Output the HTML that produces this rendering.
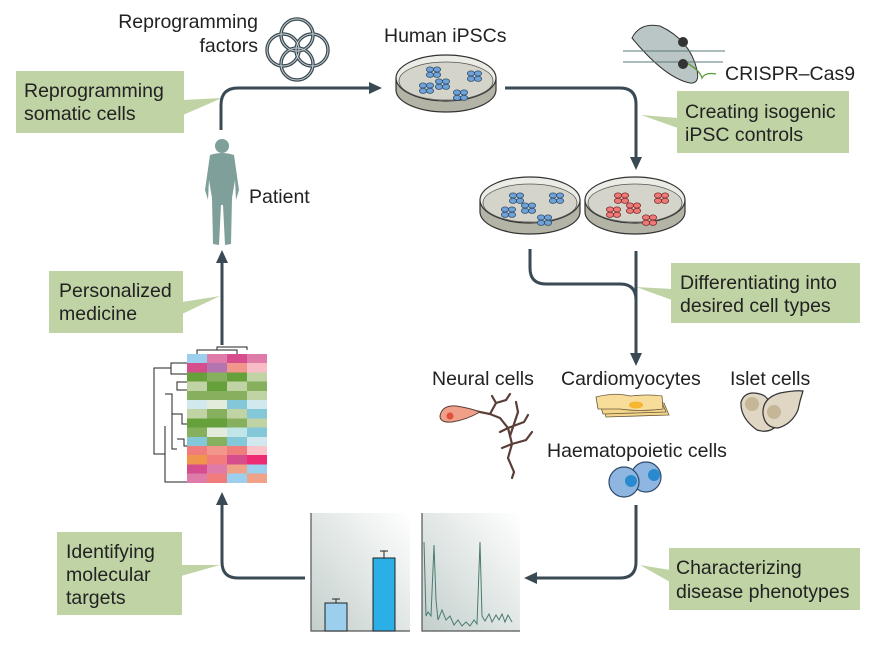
<!DOCTYPE html>
<html><head><meta charset="utf-8"><style>
body{margin:0;background:#fff;}
svg{display:block;font-family:"Liberation Sans",sans-serif;}
</style></head><body>
<svg width="870" height="646" viewBox="0 0 870 646" xmlns="http://www.w3.org/2000/svg">
<defs>
<g id="cb"><ellipse cx="-3" cy="-2.5" rx="3.6" ry="2.6" fill="#6fa3d8" stroke="#2d4a6b" stroke-width="0.8"/><ellipse cx="4" cy="-2.5" rx="3.6" ry="2.6" fill="#6fa3d8" stroke="#2d4a6b" stroke-width="0.8"/><ellipse cx="-3" cy="2.8" rx="3.6" ry="2.6" fill="#6fa3d8" stroke="#2d4a6b" stroke-width="0.8"/><ellipse cx="4" cy="2.8" rx="3.6" ry="2.6" fill="#6fa3d8" stroke="#2d4a6b" stroke-width="0.8"/></g>
<g id="cr"><ellipse cx="-3" cy="-2.5" rx="3.6" ry="2.6" fill="#ee7a78" stroke="#7a2a2a" stroke-width="0.8"/><ellipse cx="4" cy="-2.5" rx="3.6" ry="2.6" fill="#ee7a78" stroke="#7a2a2a" stroke-width="0.8"/><ellipse cx="-3" cy="2.8" rx="3.6" ry="2.6" fill="#ee7a78" stroke="#7a2a2a" stroke-width="0.8"/><ellipse cx="4" cy="2.8" rx="3.6" ry="2.6" fill="#ee7a78" stroke="#7a2a2a" stroke-width="0.8"/></g>
<g id="dish">
<path d="M-50,0 L-50,12 A50,22 0 0 0 50,12 L50,0 Z" fill="#b4b4a6" stroke="#333" stroke-width="1.2"/>
<ellipse cx="0" cy="0" rx="50" ry="23" fill="#ececE6" stroke="#333" stroke-width="1.2"/>
<ellipse cx="0" cy="3" rx="47" ry="19" fill="#d4d4ca" stroke="#555" stroke-width="0.8"/>
</g>
<linearGradient id="gr" x1="0" y1="1" x2="1" y2="0"><stop offset="0" stop-color="#c3cfcc"/><stop offset="1" stop-color="#ffffff"/></linearGradient>
</defs>

<g fill="#bfd3a4">
<rect x="16" y="71" width="168" height="62"/><polygon points="183,100 222,98 183,115"/>
<rect x="677" y="91" width="172" height="62"/><polygon points="678,118 641,115 678,128"/>
<rect x="49" y="271" width="134" height="62"/><polygon points="182,302 220,296 182,314"/>
<rect x="671" y="263" width="189" height="60"/><polygon points="672,289 636,287 672,300"/>
<rect x="57" y="532" width="125" height="83"/><polygon points="181,565 220,565 181,576"/>
<rect x="669" y="548" width="191" height="62"/><polygon points="670,570 640,565 670,582"/>
</g>
<g font-size="19.5" fill="#222">
<text x="24" y="97">Reprogramming</text><text x="24" y="120">somatic cells</text>
<text x="685" y="118">Creating isogenic</text><text x="685" y="141">iPSC controls</text>
<text x="59" y="297">Personalized</text><text x="59" y="320">medicine</text>
<text x="680" y="289">Differentiating into</text><text x="680" y="312">desired cell types</text>
<text x="66" y="558">Identifying</text><text x="66" y="581">molecular</text><text x="66" y="604">targets</text>
<text x="676" y="574">Characterizing</text><text x="676" y="598">disease phenotypes</text>
<text x="258" y="28" text-anchor="end">Reprogramming</text><text x="258" y="52" text-anchor="end">factors</text>
<text x="384" y="42">Human iPSCs</text>
<text x="725" y="80">CRISPR–Cas9</text>
<text x="249" y="203">Patient</text>
<text x="432" y="385">Neural cells</text>
<text x="561" y="385">Cardiomyocytes</text>
<text x="730" y="385">Islet cells</text>
<text x="547" y="457">Haematopoietic cells</text>
</g>

<g fill="none" stroke="#3a4a54" stroke-width="3">
<path d="M221,130 L221,105 Q221,88 238,88 L372,88"/>
<path d="M505,88 L620,88 Q636,88 636,104 L636,160"/>
<path d="M530,249 L530,268 Q530,284 546,284 L620,284 Q636,284 636,300"/>
<path d="M636,251 L636,356"/>
<path d="M636,505 L636,562 Q636,578 620,578 L535,578"/>
<path d="M305,578 L238,578 Q222,578 222,562 L222,502"/>
<path d="M222,345 L222,260"/>
</g>
<g fill="#3a4a54">
<polygon points="382,88 369,82 369,94"/>
<polygon points="636,170 630,157 642,157"/>
<polygon points="636,366 630,353 642,353"/>
<polygon points="524,578 537,572 537,584"/>
<polygon points="222,492 216,505 228,505"/>
<polygon points="222,250 216,263 228,263"/>
</g>

<g fill="none" stroke="#3a4a54" stroke-width="3.5">
<circle cx="297" cy="35" r="16"/><circle cx="283" cy="50" r="16"/><circle cx="312" cy="50" r="16"/><circle cx="297" cy="64" r="16"/>
</g>
<g fill="none" stroke="#c8d0d0" stroke-width="1">
<circle cx="297" cy="35" r="16"/><circle cx="283" cy="50" r="16"/><circle cx="312" cy="50" r="16"/><circle cx="297" cy="64" r="16"/>
</g>

<g transform="translate(446,78)"><use href="#dish"/>
<use href="#cb" x="-13" y="-6"/><use href="#cb" x="28" y="-2"/><use href="#cb" x="-20" y="10"/><use href="#cb" x="-4" y="6"/><use href="#cb" x="14" y="17"/></g>
<g transform="translate(530,200)"><use href="#dish"/>
<use href="#cb" x="-14" y="-2"/><use href="#cb" x="26" y="-2"/><use href="#cb" x="-22" y="12"/><use href="#cb" x="-2" y="8"/><use href="#cb" x="14" y="20"/></g>
<g transform="translate(635,200)"><use href="#dish"/>
<use href="#cr" x="-14" y="-2"/><use href="#cr" x="26" y="-2"/><use href="#cr" x="-22" y="12"/><use href="#cr" x="-2" y="8"/><use href="#cr" x="14" y="20"/></g>

<path d="M632,38 Q640,22 660,26 Q690,40 697,70 Q700,84 690,83 Q665,78 632,38 Z" fill="#b9c6c5" stroke="#333" stroke-width="1"/>
<g stroke="#5a7a78" stroke-width="1"><line x1="623" y1="51" x2="725" y2="51"/><line x1="623" y1="62" x2="723" y2="62"/></g>
<path d="M685,62 Q700,70 702,78 Q705,72 716,74" fill="none" stroke="#5a9a3a" stroke-width="1.3"/>
<circle cx="683" cy="42" r="5" fill="#333"/><circle cx="683" cy="64" r="5" fill="#333"/>

<g fill="#7f9f9a">
<circle cx="222" cy="146" r="7"/>
<path d="M210,155 Q222,151 234,155 L239,190 L236,200 L235,180 L232,198 L231,244 L225,245 L223,205 L221,205 L219,245 L213,244 L212,198 L209,180 L208,200 L205,190 Z"/>
</g>

<g transform="translate(187,354)">
<g shape-rendering="crispEdges">
<rect x="0" y="0" width="20" height="9.3" fill="#9ccfee"/><rect x="20" y="0" width="20" height="9.3" fill="#df7ba8"/><rect x="40" y="0" width="20" height="9.3" fill="#d64d8d"/><rect x="60" y="0" width="20" height="9.3" fill="#df7ba8"/>
<rect x="0" y="9.2" width="20" height="9.3" fill="#d64d8d"/><rect x="20" y="9.2" width="20" height="9.3" fill="#b374b0"/><rect x="40" y="9.2" width="20" height="9.3" fill="#f2958b"/><rect x="60" y="9.2" width="20" height="9.3" fill="#f7bcc6"/>
<rect x="0" y="18.4" width="20" height="9.3" fill="#66a03a"/><rect x="20" y="18.4" width="20" height="9.3" fill="#86b05e"/><rect x="40" y="18.4" width="20" height="9.3" fill="#66a03a"/><rect x="60" y="18.4" width="20" height="9.3" fill="#c0d3a4"/>
<rect x="0" y="27.6" width="20" height="9.3" fill="#c0d3a4"/><rect x="20" y="27.6" width="20" height="9.3" fill="#66a03a"/><rect x="40" y="27.6" width="20" height="9.3" fill="#c0d3a4"/><rect x="60" y="27.6" width="20" height="9.3" fill="#86b05e"/>
<rect x="0" y="36.8" width="60" height="9.3" fill="#86b05e"/><rect x="60" y="36.8" width="20" height="9.3" fill="#c0d3a4"/>
<rect x="0" y="46" width="20" height="9.3" fill="#d0e8ee"/><rect x="20" y="46" width="20" height="9.3" fill="#e3ecda"/><rect x="40" y="46" width="20" height="9.3" fill="#84c7d8"/><rect x="60" y="46" width="20" height="9.3" fill="#d0e8ee"/>
<rect x="0" y="55.2" width="20" height="9.3" fill="#c0d3a4"/><rect x="20" y="55.2" width="20" height="9.3" fill="#86b05e"/><rect x="40" y="55.2" width="20" height="9.3" fill="#c0d3a4"/><rect x="60" y="55.2" width="20" height="9.3" fill="#84c7d8"/>
<rect x="0" y="64.4" width="40" height="9.3" fill="#66a03a"/><rect x="40" y="64.4" width="20" height="9.3" fill="#86b05e"/><rect x="60" y="64.4" width="20" height="9.3" fill="#c0d3a4"/>
<rect x="0" y="73.6" width="20" height="9.3" fill="#86b05e"/><rect x="20" y="73.6" width="20" height="9.3" fill="#e3ecda"/><rect x="40" y="73.6" width="20" height="9.3" fill="#c0e6e8"/><rect x="60" y="73.6" width="20" height="9.3" fill="#84c7d8"/>
<rect x="0" y="82.8" width="20" height="9.3" fill="#84c7d8"/><rect x="20" y="82.8" width="20" height="9.3" fill="#86b05e"/><rect x="40" y="82.8" width="20" height="9.3" fill="#84c7d8"/><rect x="60" y="82.8" width="20" height="9.3" fill="#d0e8ee"/>
<rect x="0" y="92" width="20" height="9.3" fill="#f07c7c"/><rect x="20" y="92" width="20" height="9.3" fill="#f2958b"/><rect x="40" y="92" width="20" height="9.3" fill="#f07c7c"/><rect x="60" y="92" width="20" height="9.3" fill="#f9c5cb"/>
<rect x="0" y="101.2" width="20" height="9.3" fill="#f0964c"/><rect x="20" y="101.2" width="20" height="9.3" fill="#f07c7c"/><rect x="40" y="101.2" width="20" height="9.3" fill="#d64d8d"/><rect x="60" y="101.2" width="20" height="9.3" fill="#ee2a72"/>
<rect x="0" y="110.4" width="20" height="9.3" fill="#d64d8d"/><rect x="20" y="110.4" width="20" height="9.3" fill="#df7ba8"/><rect x="40" y="110.4" width="20" height="9.3" fill="#f0a288"/><rect x="60" y="110.4" width="20" height="9.3" fill="#9ccfee"/>
<rect x="0" y="119.6" width="20" height="9.4" fill="#df7ba8"/><rect x="20" y="119.6" width="20" height="9.4" fill="#f07c7c"/><rect x="40" y="119.6" width="20" height="9.4" fill="#9ccfee"/><rect x="60" y="119.6" width="20" height="9.4" fill="#f0a288"/>
</g>
<g fill="none" stroke="#222" stroke-width="1">
<path d="M0,9 H-16 V20 H0 M-16,14 H-33 V100 H-22 M-22,72 V128 H0 M-22,40 H-15 V95 H-10 M0,28 H-10 V36 H0 M-15,60 H-5 V70 H0 M-10,85 H-3 V92 H0"/>
<path d="M10,0 V-4 H50 V0 M30,-4 V-7 H60 V-4"/>
</g>
</g>

<rect x="311" y="513" width="99" height="118" fill="url(#gr)"/>
<rect x="422" y="513" width="98" height="118" fill="url(#gr)"/>
<g stroke="#555" stroke-width="1.2" fill="none"><path d="M311,513 V631 H410"/><path d="M422,513 V631 H520"/></g>
<rect x="325" y="603" width="22" height="28" fill="#9ccfee" stroke="#222"/>
<rect x="373" y="558" width="22" height="73" fill="#2aafe6" stroke="#222"/>
<g stroke="#222"><path d="M336,603 V599 M332,599 H340 M384,558 V551 M380,551 H388"/></g>
<path d="M424,542 L426,616 L428,612 L431,616 L434,545 L436,600 L438,620 L442,610 L446,620 L450,616 L454,625 L458,620 L462,626 L466,622 L470,626 L474,620 L477,624 L480,542 L482,616 L485,621 L489,614 L492,622 L496,615 L499,620 L502,614 L505,622 L508,615 L512,622" fill="none" stroke="#4a7a70" stroke-width="1"/>

<g stroke="#5a3e38" stroke-width="2.2" fill="none" stroke-linecap="round">
<path d="M470,410 L490,414 L500,418 L508,428 L512,444 L508,458 L514,472 L512,478"/>
<path d="M490,414 L496,403 L492,396 M496,403 L506,400 L510,394 M508,428 L524,422 L528,415 M512,444 L526,440 L532,432 M508,428 L500,432 M512,444 L502,448 M510,436 L518,412 L516,402"/>
</g>
<path d="M440,416 Q442,405 456,406 Q470,408 480,412 Q466,420 452,422 Q440,423 440,416Z" fill="#f0a088" stroke="#5a3e38" stroke-width="1"/>
<circle cx="450" cy="416" r="3.5" fill="#e0503a"/>

<g stroke="#6a5a3a" stroke-width="0.8">
<path d="M602,403 L664,403 L669,415 L606,417 Z" fill="#f3d58c"/>
<path d="M599,400 L661,400 L666,412 L603,414 Z" fill="#f3d58c"/>
<path d="M596,397 Q615,392 630,396 Q650,394 662,396 L663,409 Q640,412 620,409 L598,409 Z" fill="#f7dc9a"/>
</g>
<ellipse cx="636" cy="405" rx="7" ry="3.5" fill="#f5b630"/>

<path d="M760,394 Q745,390 741,402 Q740,418 757,430 Q770,434 777,425 L770,405 Q768,396 760,394Z" fill="#e0d6c4" stroke="#333" stroke-width="1.2"/>
<path d="M763,414 Q762,398 780,393 Q796,390 803,391 Q800,400 798,410 Q792,424 778,428 Q765,428 763,414Z" fill="#e0d6c4" stroke="#333" stroke-width="1.2"/>
<circle cx="752" cy="404" r="7" fill="#c5b698"/><circle cx="774" cy="412" r="7" fill="#c5b698"/>

<circle cx="646" cy="477" r="15" fill="#8fb6e0" stroke="#2d4a6b" stroke-width="1.2"/>
<circle cx="624" cy="482" r="15" fill="#8fb6e0" stroke="#2d4a6b" stroke-width="1.2"/>
<circle cx="631" cy="481" r="6" fill="#2a8ad0"/><circle cx="654" cy="475" r="6" fill="#2a8ad0"/>
</svg>
</body></html>
